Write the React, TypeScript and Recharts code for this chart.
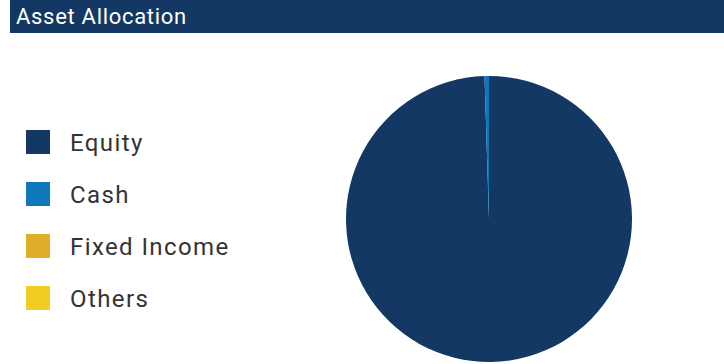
import { PieChart, Pie, Cell } from 'recharts';

const categories = ['Equity', 'Cash', 'Fixed Income', 'Others'];
const allocation = [99.5, 0.5, 0, 0];
const colors = ['#133863', '#0f77bb', '#deae29', '#f2cd21'];

const data = categories.map((name, i) => ({ name, value: allocation[i], color: colors[i] }));

const font = 'Roboto, sans-serif';

export default function App() {
    return (
        <div style={{ position: 'absolute', left: 0, top: 0, width: 724, height: 364, background: '#fff' }}>
            {/* Header bar */}
            <div
                style={{
                    position: 'absolute',
                    left: 10,
                    top: 0,
                    width: 714,
                    height: 33,
                    background: '#133863',
                    color: '#fff',
                    fontFamily: font,
                    fontSize: 22,
                    letterSpacing: 0.7,
                    lineHeight: '34px',
                    paddingLeft: 6,
                    boxSizing: 'border-box',
                }}
            >
                Asset Allocation
            </div>
            <PieChart
                width={724}
                height={364}
                margin={{ top: 0, right: 0, bottom: 0, left: 0 }}
                style={{ position: 'absolute', left: 0, top: 0 }}
            >
                <Pie
                    data={data}
                    dataKey="value"
                    nameKey="name"
                    cx={489}
                    cy={219}
                    outerRadius={143}
                    startAngle={90}
                    endAngle={-270}
                    stroke="none"
                    isAnimationActive={false}
                >
                    {data.map((entry, index) => (
                        <Cell key={`cell-${index}`} fill={entry.color} />
                    ))}
                </Pie>
            </PieChart>
            {/* Legend */}
            <div style={{ position: 'absolute', left: 26, top: 116 }}>
                {data.map((entry) => (
                    <div key={entry.name} style={{ display: 'flex', alignItems: 'center', height: 52 }}>
                        <span style={{ width: 24, height: 24, background: entry.color, display: 'inline-block' }} />
                        <span style={{ marginLeft: 20, fontSize: 24, color: '#333', fontFamily: font, letterSpacing: 1.4, lineHeight: '28px', paddingTop: 2 }}>
                            {entry.name}
                        </span>
                    </div>
                ))}
            </div>
        </div>
    );
}
